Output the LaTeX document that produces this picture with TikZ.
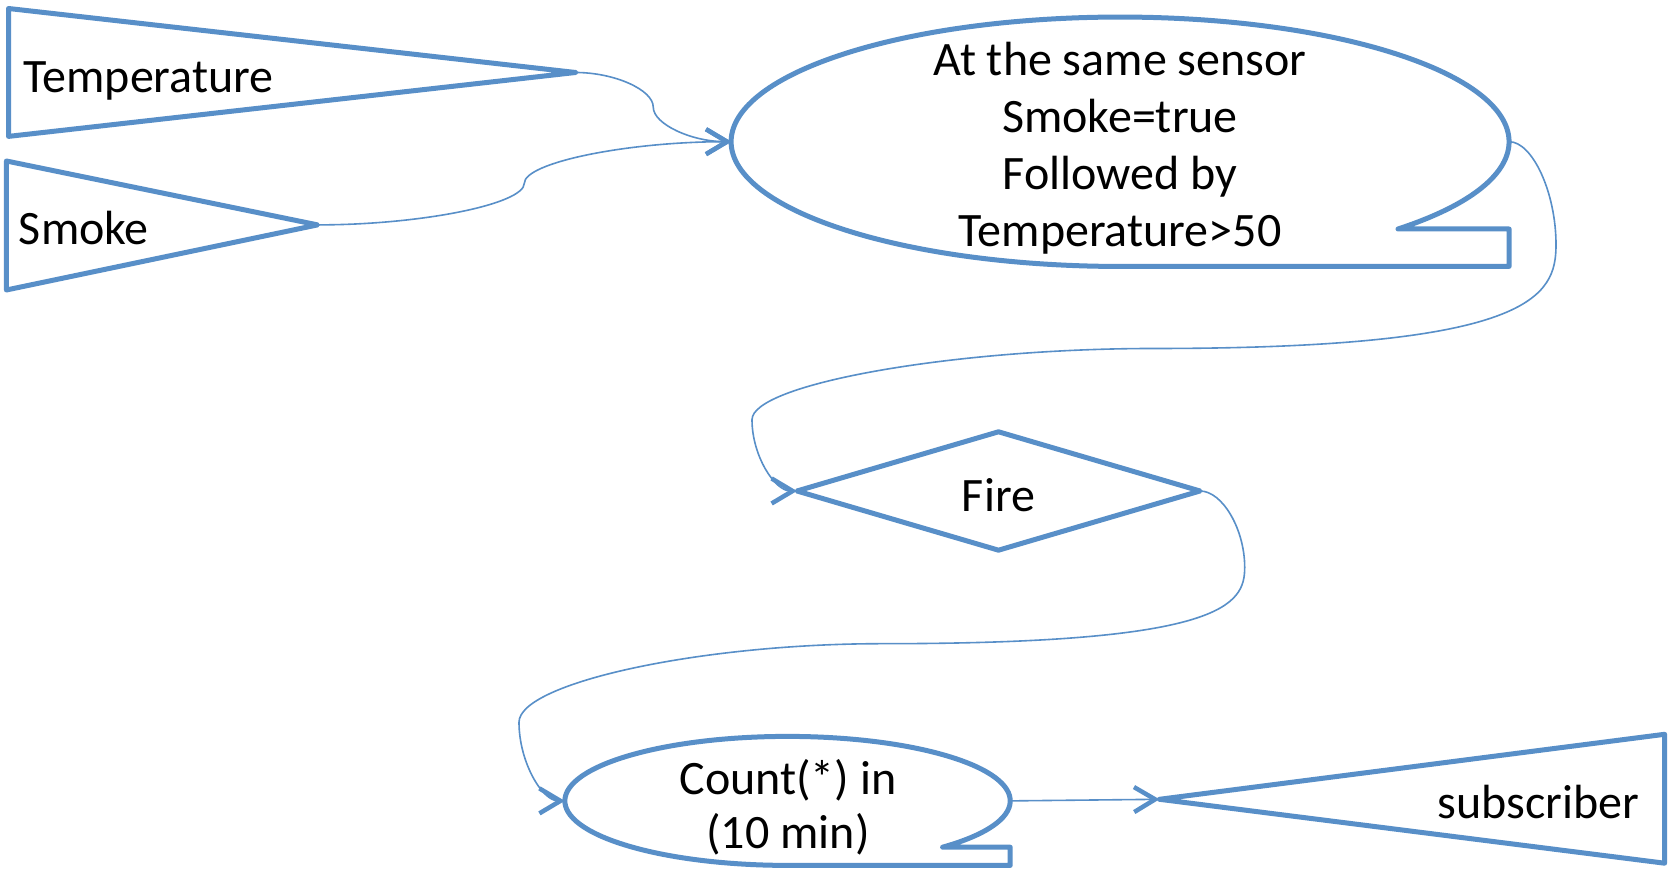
\documentclass[tikz,border=0pt]{standalone}
\usepackage{fontspec}
\setmainfont{Carlito}
\usetikzlibrary{arrows.meta}
\begin{document}
\begin{tikzpicture}[x=1pt,y=1pt,
  shapeLine/.style={draw=drawColor,line width=5pt,line join=round},
  linkLine/.style={draw=drawColor,line width=1.6pt,-{Straight Barb[length=21pt,width=25pt,line width=4.5pt]}},
  bodyText/.style={text=black,inner sep=0pt,outer sep=0pt,font=\fontsize{48}{56.8}\selectfont}]
\definecolor{drawColor}{RGB}{88,143,200}
\path[use as bounding box,fill=white] (0,0) rectangle (1671,872);

\coordinate (tempTip) at (575.5,799.5);
\coordinate (smokeTip) at (317.6,647.1);
\coordinate (cepWest) at (731.4,730.3);
\coordinate (cepEast) at (1509.1,730.3);
\coordinate (fireWest) at (797,381);
\coordinate (fireEast) at (1200,381);
\coordinate (countWest) at (564.8,71.1);
\coordinate (countEast) at (1010.2,71.1);
\coordinate (subTip) at (1159.5,72.7);

\draw[shapeLine] (8.5,863.5) -- (tempTip) -- (8.5,735.6) -- cycle;
\draw[shapeLine] (6.4,711) -- (smokeTip) -- (6.4,582) -- cycle;
\draw[shapeLine] (1398,643) arc[start angle=-44.4,end angle=270,x radius=389,y radius=124.7] -- (1509.1,605.6) -- (1509.1,643) -- cycle;
\draw[shapeLine] (fireWest) -- (998.5,440.2) -- (fireEast) -- (998.5,321.8) -- cycle;
\draw[shapeLine] (942.6,24.8) arc[start angle=-45.87,end angle=270,x radius=222.7,y radius=64.5] -- (1010.2,6.6) -- (1010.2,24.8) -- cycle;
\draw[shapeLine] (subTip) -- (1664.6,137.7) -- (1664.6,8.8) -- cycle;

\node[bodyText,anchor=base west] (tempText) at (23.4,779.3) {Temperature};
\node[bodyText,anchor=base west] (smokeText) at (19,627) {Smoke};
\node[bodyText,align=center] (cepText) at (1120,723.7) {At the same sensor\\Smoke=true\\Followed by\\Temperature>50};
\node[bodyText,anchor=base] (fireText) at (998.5,360.5) {Fire};
\node[bodyText,align=center,font=\fontsize{48}{54}\selectfont] (countText) at (788,64.5) {Count(*) in\\(10 min)};
\node[bodyText,anchor=base east] (subText) at (1639,53.5) {subscriber};

\draw[linkLine] (tempTip) .. controls (614.4,799.5) and (653.25,782.2) .. (653.25,764.9)
  .. controls (653.25,747.6) and (692.1,730.3) .. (cepWest);
\draw[linkLine] (smokeTip) .. controls (420.95,647.1) and (524.3,667.9) .. (524.3,688.7)
  .. controls (524.3,709.5) and (627.65,730.3) .. (cepWest);
\draw[linkLine] (cepEast) .. controls (1532.5,730.3) and (1556,679.35) .. (1556,627.4)
  .. controls (1556,575.45) and (1532.5,523.5) .. (1154,523.5)
  .. controls (953,523.5) and (752,487.9) .. (752,452.25)
  .. controls (752,416.6) and (774.5,381) .. (fireWest);
\draw[linkLine] (fireEast) .. controls (1222.35,381) and (1244.7,342.8) .. (1244.7,304.65)
  .. controls (1244.7,266.5) and (1222.35,228.3) .. (881.85,228.3)
  .. controls (700.4,228.3) and (519,189) .. (519,149.7)
  .. controls (519,110.4) and (541.9,71.1) .. (countWest);
\draw[linkLine] (countEast) -- (subTip);
\end{tikzpicture}
\end{document}
